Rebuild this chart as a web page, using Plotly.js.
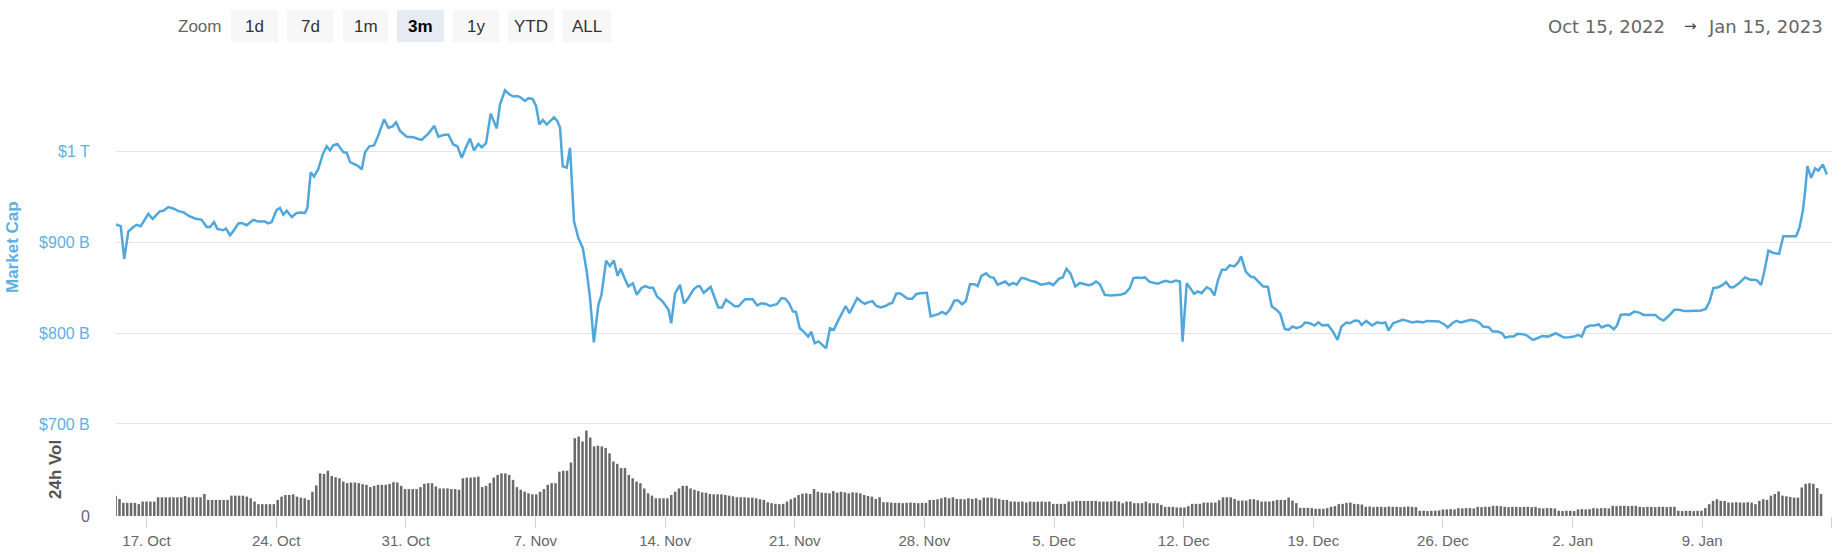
<!DOCTYPE html>
<html><head><meta charset="utf-8">
<script src="https://cdn.plot.ly/plotly-3.0.1.min.js"></script>
<style>html,body{margin:0;padding:0;background:#fff;}#chart{width:1842px;height:555px;}</style>
</head><body><div id="chart"></div>
<script>
// ---- data (market cap in billions USD) ----
const mcapTime = [
'2022-10-15 08:30','2022-10-15 14:35','2022-10-15 19:10','2022-10-16 00:25','2022-10-16 06:55','2022-10-16 11:20','2022-10-16 16:30','2022-10-16 19:55',
'2022-10-17 02:20','2022-10-17 08:00','2022-10-17 17:30','2022-10-17 21:50','2022-10-18 04:20','2022-10-18 10:40','2022-10-18 17:10','2022-10-18 23:40',
'2022-10-19 07:30','2022-10-19 14:50','2022-10-19 23:30','2022-10-20 06:00','2022-10-20 10:20','2022-10-20 15:30','2022-10-20 19:50','2022-10-21 03:40',
'2022-10-21 07:00','2022-10-21 12:10','2022-10-21 16:30','2022-10-21 23:00','2022-10-22 03:20','2022-10-22 09:50','2022-10-22 18:25','2022-10-23 00:55',
'2022-10-23 09:35','2022-10-23 13:50','2022-10-23 18:10','2022-10-24 00:40','2022-10-24 05:00','2022-10-24 09:20','2022-10-24 13:40','2022-10-24 20:10',
'2022-10-25 02:40','2022-10-25 09:10','2022-10-25 13:25','2022-10-25 16:25','2022-10-25 20:50','2022-10-26 01:05','2022-10-26 06:40','2022-10-26 12:20',
'2022-10-26 17:30','2022-10-26 21:50','2022-10-27 02:05','2022-10-27 07:20','2022-10-27 10:50','2022-10-27 15:05','2022-10-27 19:25','2022-10-27 23:45',
'2022-10-28 06:10','2022-10-28 10:30','2022-10-28 14:55','2022-10-28 19:10','2022-10-29 00:50','2022-10-29 06:50','2022-10-29 12:25','2022-10-29 19:50',
'2022-10-30 01:25','2022-10-30 07:00','2022-10-30 11:20','2022-10-30 16:30','2022-10-31 01:10','2022-10-31 09:50','2022-10-31 16:15','2022-10-31 20:35',
'2022-11-01 05:10','2022-11-01 13:00','2022-11-01 18:10','2022-11-02 00:40','2022-11-02 07:05','2022-11-02 13:35','2022-11-02 18:50','2022-11-03 00:30',
'2022-11-03 06:00','2022-11-03 11:10','2022-11-03 16:25','2022-11-03 22:00','2022-11-04 02:25','2022-11-04 08:00','2022-11-04 14:00','2022-11-04 21:50',
'2022-11-05 02:05','2022-11-05 08:35','2022-11-05 14:10','2022-11-05 19:20','2022-11-06 00:30','2022-11-06 05:00','2022-11-06 10:30','2022-11-06 14:50',
'2022-11-06 20:30','2022-11-07 00:50','2022-11-07 05:05','2022-11-07 09:30','2022-11-07 14:40','2022-11-07 19:50','2022-11-08 00:05','2022-11-08 04:25',
'2022-11-08 07:55','2022-11-08 11:20','2022-11-08 16:30','2022-11-08 20:50','2022-11-09 02:00','2022-11-09 07:35','2022-11-09 13:20','2022-11-09 18:30',
'2022-11-09 22:45','2022-11-10 03:40','2022-11-10 09:35','2022-11-10 13:35','2022-11-10 19:35','2022-11-11 00:30','2022-11-11 05:30','2022-11-11 10:30',
'2022-11-11 14:25','2022-11-11 19:20','2022-11-12 00:25','2022-11-12 06:20','2022-11-12 11:20','2022-11-12 17:40','2022-11-12 22:40','2022-11-13 03:35',
'2022-11-13 08:30','2022-11-13 13:30','2022-11-13 20:55','2022-11-14 04:30','2022-11-14 07:55','2022-11-14 12:55','2022-11-14 19:20','2022-11-15 00:20',
'2022-11-15 05:10','2022-11-15 12:35','2022-11-15 17:35','2022-11-15 21:00','2022-11-16 02:05','2022-11-16 11:00','2022-11-16 15:55','2022-11-16 20:55',
'2022-11-17 01:50','2022-11-17 06:50','2022-11-17 11:50','2022-11-17 18:15','2022-11-17 23:10','2022-11-18 07:35','2022-11-18 17:30','2022-11-18 23:25',
'2022-11-19 04:55','2022-11-19 10:50','2022-11-19 15:55','2022-11-20 00:50','2022-11-20 06:50','2022-11-20 11:45','2022-11-20 16:40','2022-11-20 21:35',
'2022-11-21 01:35','2022-11-21 06:30','2022-11-21 12:30','2022-11-21 17:25','2022-11-21 21:25','2022-11-22 01:50','2022-11-22 06:50','2022-11-22 11:50',
'2022-11-22 16:40','2022-11-22 21:40','2022-11-23 02:40','2022-11-23 08:05','2022-11-23 13:00','2022-11-23 18:00','2022-11-23 23:00','2022-11-24 03:55',
'2022-11-24 08:55','2022-11-24 13:55','2022-11-24 18:50','2022-11-24 23:50','2022-11-25 04:45','2022-11-25 09:45','2022-11-25 15:40','2022-11-25 21:35',
'2022-11-26 02:35','2022-11-26 06:30','2022-11-26 11:30','2022-11-26 16:30','2022-11-26 21:25','2022-11-27 02:20','2022-11-27 08:20','2022-11-27 13:20',
'2022-11-27 18:20','2022-11-28 03:10','2022-11-28 08:05','2022-11-28 13:05','2022-11-28 18:05','2022-11-28 23:00','2022-11-29 04:00','2022-11-29 08:55',
'2022-11-29 14:55','2022-11-29 19:55','2022-11-30 00:50','2022-11-30 05:45','2022-11-30 11:10','2022-11-30 17:05','2022-11-30 21:05','2022-12-01 02:00',
'2022-12-01 08:00','2022-12-01 13:00','2022-12-01 17:55','2022-12-01 22:55','2022-12-02 03:55','2022-12-02 08:50','2022-12-02 13:50','2022-12-02 18:50',
'2022-12-02 23:45','2022-12-03 05:40','2022-12-03 11:05','2022-12-03 17:05','2022-12-03 23:30','2022-12-04 06:55','2022-12-04 12:55','2022-12-04 17:50',
'2022-12-04 22:55','2022-12-05 06:20','2022-12-05 11:10','2022-12-05 16:10','2022-12-05 21:10','2022-12-06 03:35','2022-12-06 09:35','2022-12-06 15:30',
'2022-12-06 20:30','2022-12-07 01:25','2022-12-07 06:25','2022-12-07 11:25','2022-12-07 17:45','2022-12-08 01:10','2022-12-08 08:35','2022-12-08 13:40',
'2022-12-08 20:00','2022-12-09 02:00','2022-12-09 06:55','2022-12-09 11:55','2022-12-09 16:55','2022-12-09 21:50','2022-12-10 03:50','2022-12-10 14:25',
'2022-12-11 00:20','2022-12-11 07:40','2022-12-11 14:05','2022-12-11 19:10','2022-12-11 22:35','2022-12-12 04:00','2022-12-12 08:30','2022-12-12 13:30',
'2022-12-12 18:25','2022-12-12 23:25','2022-12-13 05:50','2022-12-13 10:50','2022-12-13 15:50','2022-12-13 20:40','2022-12-14 01:35','2022-12-14 06:40',
'2022-12-14 11:35','2022-12-14 17:35','2022-12-14 22:30','2022-12-15 02:30','2022-12-15 08:30','2022-12-15 14:25','2022-12-15 19:25','2022-12-16 01:50',
'2022-12-16 06:50','2022-12-16 13:10','2022-12-16 18:10','2022-12-17 00:05','2022-12-17 05:05','2022-12-17 11:00','2022-12-17 16:00','2022-12-17 21:00',
'2022-12-18 02:25','2022-12-18 08:25','2022-12-18 13:20','2022-12-18 19:50','2022-12-19 01:40','2022-12-19 06:40','2022-12-19 11:35','2022-12-19 19:05',
'2022-12-20 01:25','2022-12-20 07:25','2022-12-20 12:30','2022-12-20 18:50','2022-12-20 23:25','2022-12-21 05:40','2022-12-21 10:50','2022-12-21 14:40',
'2022-12-21 20:35','2022-12-22 04:05','2022-12-22 10:30','2022-12-22 16:25','2022-12-22 21:30','2022-12-23 01:25','2022-12-23 07:25','2022-12-23 13:50',
'2022-12-23 19:50','2022-12-24 01:40','2022-12-24 08:10','2022-12-24 14:35','2022-12-24 21:35','2022-12-25 04:00','2022-12-25 11:25','2022-12-25 18:50',
'2022-12-26 01:20','2022-12-26 06:10','2022-12-26 12:10','2022-12-26 17:10','2022-12-26 23:10','2022-12-27 05:35','2022-12-27 12:00','2022-12-27 19:00',
'2022-12-28 00:00','2022-12-28 04:00','2022-12-28 11:25','2022-12-28 16:20','2022-12-28 22:50','2022-12-29 04:40','2022-12-29 08:35','2022-12-29 14:35',
'2022-12-29 19:35','2022-12-30 00:30','2022-12-30 07:55','2022-12-30 12:55','2022-12-30 20:25','2022-12-31 02:20','2022-12-31 08:50','2022-12-31 16:10',
'2022-12-31 21:05','2023-01-01 02:10','2023-01-01 08:05','2023-01-01 13:05','2023-01-01 19:35','2023-01-02 01:55','2023-01-02 07:00','2023-01-02 11:55',
'2023-01-02 16:50','2023-01-02 22:50','2023-01-03 04:40','2023-01-03 09:40','2023-01-03 13:40','2023-01-03 19:35','2023-01-03 23:30','2023-01-04 05:30',
'2023-01-04 09:30','2023-01-04 14:25','2023-01-04 20:25','2023-01-05 01:20','2023-01-05 07:50','2023-01-05 14:20','2023-01-05 20:10','2023-01-06 03:35',
'2023-01-06 11:05','2023-01-06 16:00','2023-01-06 22:00','2023-01-07 04:30','2023-01-07 11:55','2023-01-07 17:50','2023-01-08 00:20','2023-01-08 07:40',
'2023-01-08 15:05','2023-01-08 22:35','2023-01-09 04:35','2023-01-09 09:30','2023-01-09 14:25','2023-01-09 20:55','2023-01-10 02:35','2023-01-10 06:55',
'2023-01-10 12:05','2023-01-10 16:25','2023-01-10 22:50','2023-01-11 07:30','2023-01-11 14:00','2023-01-11 19:35','2023-01-11 23:30','2023-01-12 04:15',
'2023-01-12 08:30','2023-01-12 13:40','2023-01-12 20:10','2023-01-13 03:35','2023-01-13 09:05','2023-01-13 15:35','2023-01-13 20:00','2023-01-14 01:35',
'2023-01-14 05:55','2023-01-14 10:20','2023-01-14 13:20','2023-01-14 16:20','2023-01-14 21:05','2023-01-15 02:20','2023-01-15 06:35','2023-01-15 12:20',
'2023-01-15 17:30'
];
const mcapValue = [
920,918,882,912,917,919.5,918,923,
931.5,926,934.5,935,939,937.5,934.5,933.5,
929,926.5,925,917,917,922.5,915,913.5,
915.5,908,912.5,921,921.5,919,925,923,
923,921,922.5,936,938,930.5,935,928,
932.5,933,932.5,938,977.5,972.7,981,997,
1006,1001.5,1007,1008.5,1004,999.5,999,988.5,
986,984,980.5,999.5,1006,1007,1018,1035.7,
1026.5,1028,1032.5,1023,1016.5,1016,1014,1013,
1020,1028.5,1016.5,1018.5,1019,1008,1006,993.4,
1005,1014.5,1001.5,1008.5,1005,1009.5,1042,1025.7,
1052,1067.7,1063.4,1060.8,1061.5,1059.7,1056,1059,
1058,1050.5,1030,1035,1030,1034.5,1038,1033.7,
1026.5,984,982.5,1004.4,923.4,905,894,868,
838.7,790,831.3,842.4,880,874,880.3,863.4,
871,860.8,851.6,855,842.4,850,852,850,
850,840.5,834.9,825.8,811,844,853.4,833,
837.5,847.8,851.6,852,844.6,851,840.5,828.4,
828.4,837,834,829.7,829.7,837.5,837.5,830.7,
833,832.3,830,832,838.7,838,833,824,
823.5,805.5,801,796.3,801.6,789,791,787,
783.4,805.5,803.7,813.6,822,830,822,830.7,
838.5,835,832.5,834.3,835.4,830,828.4,830,
832.5,833.3,843.5,844,840.5,838,838,843,
844,844.6,818.5,820,821,823.5,821,825.8,
836,836,832,835.5,854,854,852,863.3,
866,862,861,853.5,855.4,857,853,855.4,
853.5,861,860,858,856.8,853.5,854.2,855.4,
853,860,861.5,871,866,851.6,855.4,854,
853,854,857,854,842.3,841.7,841.7,842.3,
844,849.5,860.8,861.5,861,861.5,856.5,854.5,
857.8,856.3,858,857,790.8,855,849.7,843.5,
846,844.2,850.7,848.5,841.7,858.9,870,870,
874.8,873.7,878,884.7,868,862.6,861.5,856,
851.7,851,829.5,826,821.5,804.8,803.7,807.4,
805.5,807.4,811.8,811,808.5,812,808.5,809.2,
801.8,792.6,807.4,811.8,811,814,813.6,809.2,
813.6,808.5,812,811,811.8,803,811,813,
814.7,813.6,811.8,813,812,813.6,813,813,
810,806.3,811,813.6,811.8,813,814.7,813.6,
811,807.4,806.6,801.8,801.8,800,795.2,796.3,
796.3,799.3,799,797.4,792.6,794.5,797,796.3,
798.2,800,797.4,795.2,795.6,796.3,798.2,796.3,
806.3,808.5,808.5,810,806.3,808.5,808.5,804.4,
808.5,820.2,821,820.2,823.8,822.7,820.2,820.2,
820.2,816.5,814,819,825.8,825.8,824.6,824.6,
825,825,826.8,835,849.7,850.7,853.2,856.3,
850.7,850.7,854.4,861.5,859,859,858,853.2,
868,891,888.5,887.4,906.8,906.8,906.8,906.8,
916,934.4,956.5,984.2,971.3,981.6,979.3,986,
975
];
// 24h volume bars (billions USD), one bar every 5 hours starting at volStart
const volStart = '2022-10-15T08:00:00Z';
const volStepHours = 5;
const volValue = [
62,52,40,40,40,40,36,44,44,44,44,57,57,57,57,57,57,57,61,57,
57,57,57,67,49,49,49,49,49,49,62,62,62,62,59,54,44,36,36,36,
36,36,49,59,64,64,66,59,56,54,49,74,93,130,128,138,122,118,115,105,
100,102,102,100,97,95,88,92,95,95,95,98,103,102,92,82,82,82,82,88,
98,100,100,90,84,84,84,82,82,80,115,117,117,118,120,88,92,100,117,125,
130,130,125,110,88,80,74,69,66,66,74,82,95,100,100,135,138,138,163,237,
242,227,260,239,212,214,212,207,191,166,159,146,146,125,115,105,100,84,69,62,
54,54,54,54,64,74,84,92,92,84,80,76,72,71,67,66,66,66,64,62,
60,57,57,57,56,56,54,51,49,42,39,37,36,37,44,51,56,64,68,69,
67,82,74,71,70,69,76,71,74,72,69,72,71,69,64,61,59,52,57,42,
42,41,40,40,39,40,41,40,39,40,40,49,49,51,54,57,54,57,52,52,
51,54,52,54,49,56,56,56,54,52,49,49,44,44,43,44,41,44,43,44,
44,43,44,37,37,37,37,44,44,46,46,46,46,46,46,44,44,44,44,46,
44,39,44,44,39,39,39,44,39,39,39,34,28,28,28,26,26,26,30,37,
37,37,41,41,41,41,48,57,57,57,52,47,47,47,51,51,48,44,44,44,
46,49,49,49,56,47,39,25,25,25,24,22,22,22,24,28,30,36,37,40,
41,37,36,35,28,29,27,28,28,27,29,28,28,27,28,29,28,27,16,16,
15,16,16,17,20,20,21,20,24,23,24,24,23,28,27,28,28,31,31,30,
28,27,28,28,27,28,28,27,28,24,23,24,24,23,16,15,16,16,15,20,
21,20,21,24,23,24,24,23,31,30,31,31,30,31,31,28,27,28,28,27,
28,28,27,28,28,16,15,16,16,15,16,16,24,36,46,51,46,46,41,41,
42,41,41,42,41,36,46,51,49,62,67,75,62,60,58,56,56,87,98,100,
98,85,67
];
const yTickVals = [700, 800, 900, 1000, 1100];
const yTickText = ['$700 B', '$800 B', '$900 B', '$1 T', ''];
const zoomButtons = ['1d', '7d', '1m', '3m', '1y', 'YTD', 'ALL'];
const selectedButton = '3m';
const rangeFrom = 'Oct 15, 2022';
const rangeTo = 'Jan 15, 2023';

// ---- build ----
const t0 = Date.parse(volStart);
const volTime = volValue.map((v, i) => new Date(t0 + i * volStepHours * 3600000).toISOString().slice(0, 16).replace('T', ' '));

const W = 1842, H = 555, L = 116, R = 10, T = 61, B = 39;
const PW = W - L - R, PH = H - T - B;
const px = X => (X - L) / PW;
const py = Y => (H - B - Y) / PH;

const BLUE = '#4fa7dc';
const LBLUE = '#5cb1e2';
const FONT = 'Liberation Sans, Arial, sans-serif';

const traces = [
  {type: 'bar', x: volTime, y: volValue, yaxis: 'y2', marker: {color: '#696969', line: {width: 0}}, hoverinfo: 'skip'},
  {type: 'scatter', mode: 'lines', x: mcapTime, y: mcapValue, line: {color: BLUE, width: 2.5}, hoverinfo: 'skip'}
];

const btnBoxes = [[231, 278], [287, 333], [343, 388], [397, 444], [453, 499], [508, 554], [563, 611]];
const shapes = btnBoxes.map((b, i) => ({
  type: 'rect', xref: 'paper', yref: 'paper', x0: px(b[0]), x1: px(b[1]), y0: py(42), y1: py(10),
  fillcolor: zoomButtons[i] === selectedButton ? '#e6ebf5' : '#f7f7f7', line: {width: 0}, layer: 'above'
}));
const annotations = btnBoxes.map((b, i) => ({
  xref: 'paper', yref: 'paper', x: px((b[0] + b[1]) / 2), y: py(26), xanchor: 'center', yanchor: 'middle', showarrow: false,
  text: zoomButtons[i] === selectedButton ? '<b>' + zoomButtons[i] + '</b>' : zoomButtons[i],
  font: {family: FONT, size: 17, color: zoomButtons[i] === selectedButton ? '#000' : '#333'}
}));
annotations.push(
  {xref: 'paper', yref: 'paper', x: px(223), y: py(26), xanchor: 'right', yanchor: 'middle', showarrow: false, text: 'Zoom', font: {family: FONT, size: 17, color: '#666'}},
  {xref: 'paper', yref: 'paper', x: px(1667), y: py(26), xanchor: 'right', yanchor: 'middle', showarrow: false, text: rangeFrom, font: {family: 'DejaVu Sans, sans-serif', size: 18, color: '#666'}},
  {xref: 'paper', yref: 'paper', x: px(1690), y: py(26), xanchor: 'center', yanchor: 'middle', showarrow: false, text: '→', font: {family: 'DejaVu Sans, sans-serif', size: 15, color: '#444'}},
  {xref: 'paper', yref: 'paper', x: px(1706), y: py(26), xanchor: 'left', yanchor: 'middle', showarrow: false, text: rangeTo, font: {family: 'DejaVu Sans, sans-serif', size: 18, color: '#666'}},
  {xref: 'paper', yref: 'paper', x: px(12), y: py(247), xanchor: 'center', yanchor: 'middle', showarrow: false, textangle: -90, text: '<b>Market Cap</b>', font: {family: FONT, size: 17, color: LBLUE}},
  {xref: 'paper', yref: 'paper', x: px(55), y: py(470), xanchor: 'center', yanchor: 'middle', showarrow: false, textangle: -90, text: '<b>24h Vol</b>', font: {family: FONT, size: 17, color: '#555'}}
);

const layout = {
  width: W, height: H,
  margin: {l: L, r: R, t: T, b: B, pad: 0},
  paper_bgcolor: '#fff', plot_bgcolor: '#fff',
  showlegend: false, bargap: 0.35,
  xaxis: {
    type: 'date', range: ['2022-10-15 08:28', '2023-01-16 00:10'],
    tick0: '2022-10-17', dtick: 7 * 86400000, tickformat: '%-d. %b',
    ticks: 'outside', ticklen: 11, tickwidth: 1, tickcolor: '#ccd6eb',
    showgrid: false, zeroline: false, showline: false,
    tickfont: {family: FONT, size: 15, color: '#666'}
  },
  yaxis: {
    range: [598.6, 1100], tickmode: 'array', tickvals: yTickVals, ticktext: yTickText,
    showgrid: true, gridcolor: '#e6e6e6', gridwidth: 1, zeroline: false, showline: false,
    ticks: 'outside', ticklen: 22, tickcolor: 'rgba(0,0,0,0)',
    tickfont: {family: FONT, size: 16, color: LBLUE}
  },
  yaxis2: {
    overlaying: 'y', side: 'left', anchor: 'x', range: [0, 1386],
    tickmode: 'array', tickvals: [0], ticktext: ['0'],
    showgrid: false, zeroline: false, showline: false,
    ticks: 'outside', ticklen: 22, tickcolor: 'rgba(0,0,0,0)',
    tickfont: {family: FONT, size: 16, color: '#666'}
  },
  shapes: shapes,
  annotations: annotations
};

Plotly.newPlot('chart', traces, layout, {displayModeBar: false, staticPlot: true});
</script>
</body></html>
